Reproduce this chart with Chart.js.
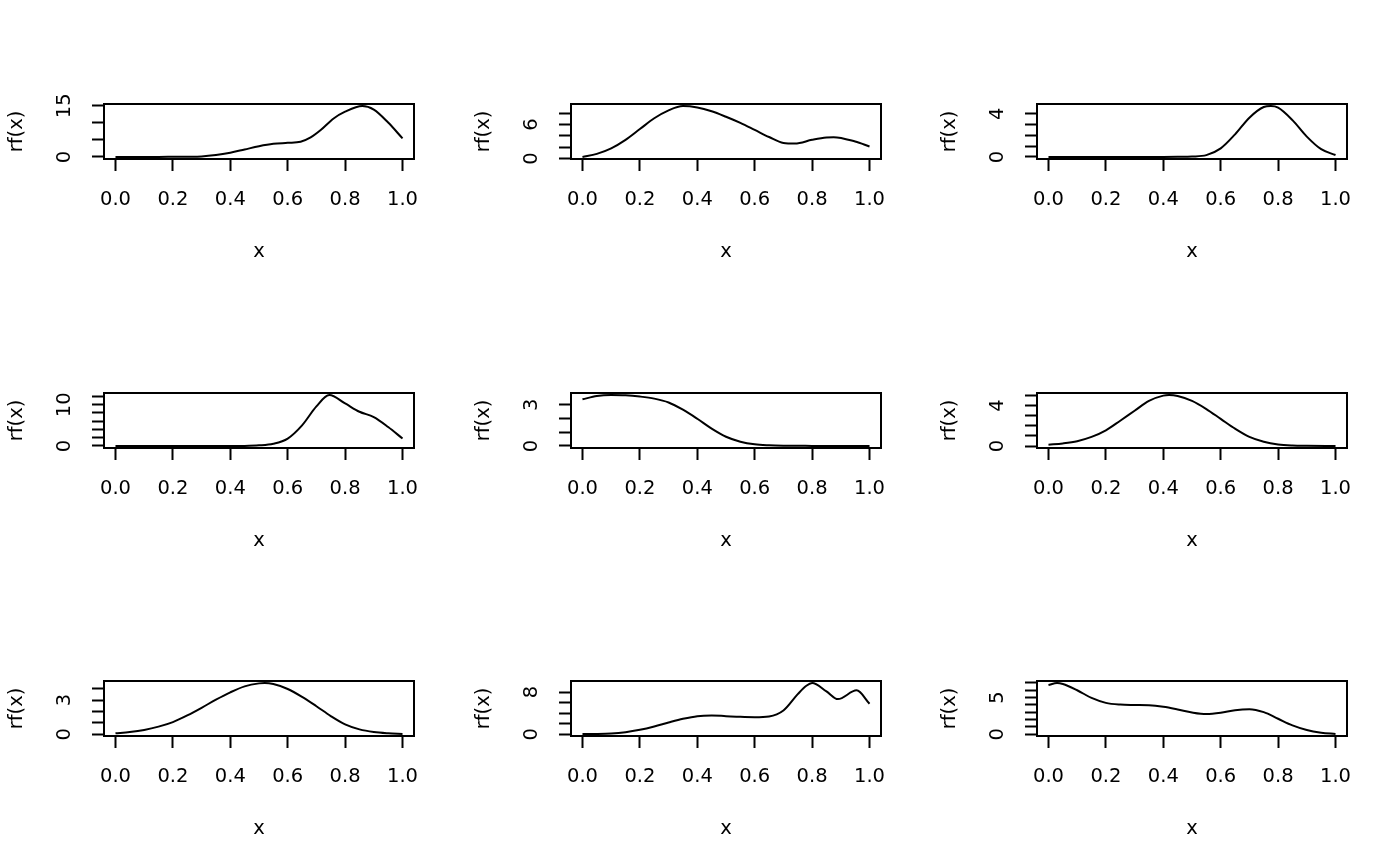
<!DOCTYPE html>
<html lang="en">
<head>
<meta charset="UTF-8">
<title>rf(x)</title>
<script src="https://cdn.jsdelivr.net/npm/chart.js@4.4.1/dist/chart.umd.min.js"></script>
<style>
html, body { margin: 0; padding: 0; background: #fff; }
#page { position: relative; width: 1400px; height: 866px; overflow: hidden; }
#page canvas { position: absolute; }
</style>
</head>
<body>
<div id="page"></div>
<script>
// x tick positions shared by every panel
const xTicks = [0, 0.2, 0.4, 0.6, 0.8, 1.0];

// panel 1 (top left)
const x1 = [0, 0.05, 0.1, 0.15, 0.2, 0.25, 0.3, 0.35, 0.4, 0.45, 0.5, 0.55, 0.6, 0.645, 0.68, 0.715, 0.76, 0.8, 0.86, 0.9, 0.95, 1.0];
const y1 = [0, 0, 0.01, 0.02, 0.05, 0.08, 0.15, 0.55, 1.25, 2.2, 3.15, 3.85, 4.15, 4.48, 5.74, 7.9, 11.3, 13.3, 14.95, 13.9, 10.1, 5.45];
const yTicks1 = [0, 5, 10, 15];
const yLab1 = [0, 15];

// panel 2 (top middle)
const x2 = [0, 0.05, 0.1, 0.15, 0.2, 0.25, 0.3, 0.35, 0.4, 0.45, 0.5, 0.55, 0.6, 0.65, 0.7, 0.74, 0.8, 0.85, 0.875, 0.95, 1.0];
const y2 = [0.29, 0.83, 1.8, 3.3, 5.2, 7.1, 8.5, 9.25, 9.0, 8.33, 7.36, 6.28, 5.05, 3.8, 2.75, 2.65, 3.3, 3.72, 3.78, 3.0, 2.13];
const yTicks2 = [0, 2, 4, 6, 8];
const yLab2 = [0, 6];

// panel 3 (top right)
const x3 = [0, 0.1, 0.2, 0.3, 0.4, 0.45, 0.5, 0.55, 0.6, 0.65, 0.7, 0.75, 0.775, 0.8, 0.85, 0.9, 0.95, 1.0];
const y3 = [0, 0, 0, 0, 0, 0.01, 0.04, 0.17, 0.8, 2.1, 3.65, 4.64, 4.73, 4.58, 3.42, 1.89, 0.72, 0.18];
const yTicks3 = [0, 1, 2, 3, 4];
const yLab3 = [0, 4];

// panel 4 (middle left)
const x4 = [0, 0.1, 0.2, 0.3, 0.4, 0.45, 0.5, 0.55, 0.6, 0.65, 0.7, 0.745, 0.8, 0.85, 0.9, 0.95, 1.0];
const y4 = [0, 0, 0, 0, 0, 0.02, 0.15, 0.55, 1.8, 5.0, 9.6, 12.35, 10.3, 8.3, 7.0, 4.6, 1.8];
const yTicks4 = [0, 2, 4, 6, 8, 10, 12];
const yLab4 = [0, 10];

// panel 5 (centre)
const x5 = [0, 0.05, 0.1, 0.15, 0.2, 0.25, 0.3, 0.35, 0.4, 0.45, 0.5, 0.55, 0.6, 0.65, 0.7, 0.8, 0.9, 1.0];
const y5 = [3.4, 3.64, 3.71, 3.69, 3.6, 3.45, 3.17, 2.64, 1.98, 1.26, 0.67, 0.31, 0.12, 0.05, 0.02, 0.005, 0, 0];
const yTicks5 = [0, 1, 2, 3];
const yLab5 = [0, 3];

// panel 6 (middle right)
const x6 = [0, 0.05, 0.1, 0.15, 0.2, 0.25, 0.3, 0.35, 0.4, 0.42, 0.45, 0.5, 0.55, 0.6, 0.65, 0.7, 0.75, 0.8, 0.85, 0.9, 1.0];
const y6 = [0.13, 0.26, 0.48, 0.9, 1.55, 2.5, 3.48, 4.45, 4.97, 5.03, 4.94, 4.45, 3.65, 2.68, 1.71, 0.9, 0.42, 0.16, 0.06, 0.03, 0.01];
const yTicks6 = [0, 1, 2, 3, 4, 5];
const yLab6 = [0, 4];

// panel 7 (bottom left)
const x7 = [0, 0.05, 0.1, 0.15, 0.2, 0.25, 0.3, 0.35, 0.4, 0.45, 0.5, 0.52, 0.55, 0.6, 0.65, 0.7, 0.75, 0.8, 0.85, 0.9, 0.95, 1.0];
const y7 = [0.09, 0.2, 0.38, 0.67, 1.07, 1.65, 2.32, 3.04, 3.68, 4.2, 4.46, 4.49, 4.4, 3.97, 3.28, 2.46, 1.6, 0.87, 0.43, 0.2, 0.09, 0.03];
const yTicks7 = [0, 1, 2, 3, 4];
const yLab7 = [0, 3];

// panel 8 (bottom middle)
const x8 = [0, 0.05, 0.1, 0.15, 0.2, 0.25, 0.3, 0.35, 0.4, 0.45, 0.5, 0.55, 0.6, 0.65, 0.7, 0.75, 0.78, 0.8, 0.85, 0.89, 0.955, 1.0];
const y8 = [0.05, 0.06, 0.13, 0.38, 0.83, 1.46, 2.22, 2.92, 3.43, 3.56, 3.43, 3.3, 3.24, 3.37, 4.5, 7.6, 9.2, 9.71, 8.13, 6.67, 8.32, 5.78];
const yTicks8 = [0, 2, 4, 6, 8];
const yLab8 = [0, 8];

// panel 9 (bottom right)
const x9 = [0, 0.03, 0.05, 0.1, 0.15, 0.2, 0.25, 0.3, 0.35, 0.4, 0.45, 0.5, 0.55, 0.6, 0.65, 0.7, 0.75, 0.8, 0.85, 0.9, 0.95, 1.0];
const y9 = [6.7, 6.98, 6.85, 6.0, 4.95, 4.28, 4.05, 4.0, 3.96, 3.74, 3.38, 2.97, 2.75, 2.93, 3.29, 3.42, 3.02, 2.12, 1.22, 0.59, 0.23, 0.05];
const yTicks9 = [0, 1, 2, 3, 4, 5, 6, 7];
const yLab9 = [0, 5];

const panels = [
    [x1, y1, yTicks1, yLab1], [x2, y2, yTicks2, yLab2], [x3, y3, yTicks3, yLab3],
    [x4, y4, yTicks4, yLab4], [x5, y5, yTicks5, yLab5], [x6, y6, yTicks6, yLab6],
    [x7, y7, yTicks7, yLab7], [x8, y8, yTicks8, yLab8], [x9, y9, yTicks9, yLab9]
];

const FAMILY = "'DejaVu Sans', sans-serif";
const SIZE = 19.5;
const W = 467, H = 289;          // one figure cell
const LEFT = 104, TOP = 104;     // plot box offset inside the cell
const BOXW = 310, BOXH = 55;

// plot frame, like R's box()
const boxPlugin = {
    id: 'box',
    afterDatasetsDraw(chart) {
        const {ctx, chartArea: a} = chart;
        ctx.save();
        ctx.strokeStyle = '#000';
        ctx.lineWidth = 2;
        ctx.strokeRect(a.left, a.top, a.right - a.left, a.bottom - a.top);
        ctx.restore();
    }
};

const measure = document.createElement('canvas').getContext('2d');
measure.font = SIZE + 'px ' + FAMILY;

const page = document.getElementById('page');

panels.forEach(function (p, i) {
    const xs = p[0], ys = p[1], yTicks = p[2], yLab = p[3];
    const col = i % 3, row = Math.floor(i / 3);

    const cv = document.createElement('canvas');
    cv.width = W;
    cv.height = H;
    cv.style.left = Math.round(col * 1400 / 3) + 'px';
    cv.style.top = Math.round(row * 866 / 3) + 'px';
    page.appendChild(cv);

    // R pads the data range by 4% on each side
    const lo = Math.min.apply(null, ys), hi = Math.max.apply(null, ys);
    const d = hi - lo;

    let widest = 0;
    yLab.forEach(function (v) { widest = Math.max(widest, measure.measureText(String(v)).width); });

    const xAxisH = H - TOP - BOXH;
    const font = {family: FAMILY, size: SIZE};

    new Chart(cv, {
        type: 'line',
        data: {
            datasets: [{
                data: xs.map(function (x, k) { return {x: x, y: ys[k]}; }),
                borderColor: '#000',
                borderWidth: 2,
                pointRadius: 0,
                fill: false,
                cubicInterpolationMode: 'monotone'
            }]
        },
        options: {
            responsive: false,
            animation: false,
            layout: {padding: {left: 0, top: TOP, right: W - LEFT - BOXW, bottom: 0}},
            plugins: {legend: {display: false}, tooltip: {enabled: false}},
            scales: {
                x: {
                    type: 'linear',
                    min: -0.04,
                    max: 1.04,
                    afterBuildTicks: function (s) { s.ticks = xTicks.map(function (v) { return {value: v}; }); },
                    afterFit: function (s) { s.height = xAxisH; },
                    grid: {drawOnChartArea: false, tickLength: 12, tickWidth: 2, tickColor: '#000'},
                    border: {color: '#000', width: 2},
                    ticks: {
                        color: '#000', font: font, padding: 17, maxRotation: 0, autoSkip: false,
                        callback: function (v) { return v.toFixed(1); }
                    },
                    title: {display: true, text: 'x', color: '#000', font: font, padding: {top: 0, bottom: xAxisH - 104.4}}
                },
                y: {
                    type: 'linear',
                    min: lo - 0.04 * d,
                    max: hi + 0.04 * d,
                    afterBuildTicks: function (s) { s.ticks = yTicks.map(function (v) { return {value: v}; }); },
                    afterFit: function (s) { s.width = LEFT; },
                    grid: {drawOnChartArea: false, tickLength: 12, tickWidth: 2, tickColor: '#000'},
                    border: {color: '#000', width: 2},
                    ticks: {
                        color: '#000', font: font, autoSkip: false,
                        minRotation: 90, maxRotation: 90, crossAlign: 'center',
                        padding: 27 - widest / 2,
                        callback: function (v) { return yLab.indexOf(v) >= 0 ? String(v) : ''; }
                    },
                    title: {display: true, text: 'rf(x)', color: '#000', font: font, padding: {top: 5.4, bottom: 0}}
                }
            }
        },
        plugins: [boxPlugin]
    });
});
</script>
</body>
</html>
